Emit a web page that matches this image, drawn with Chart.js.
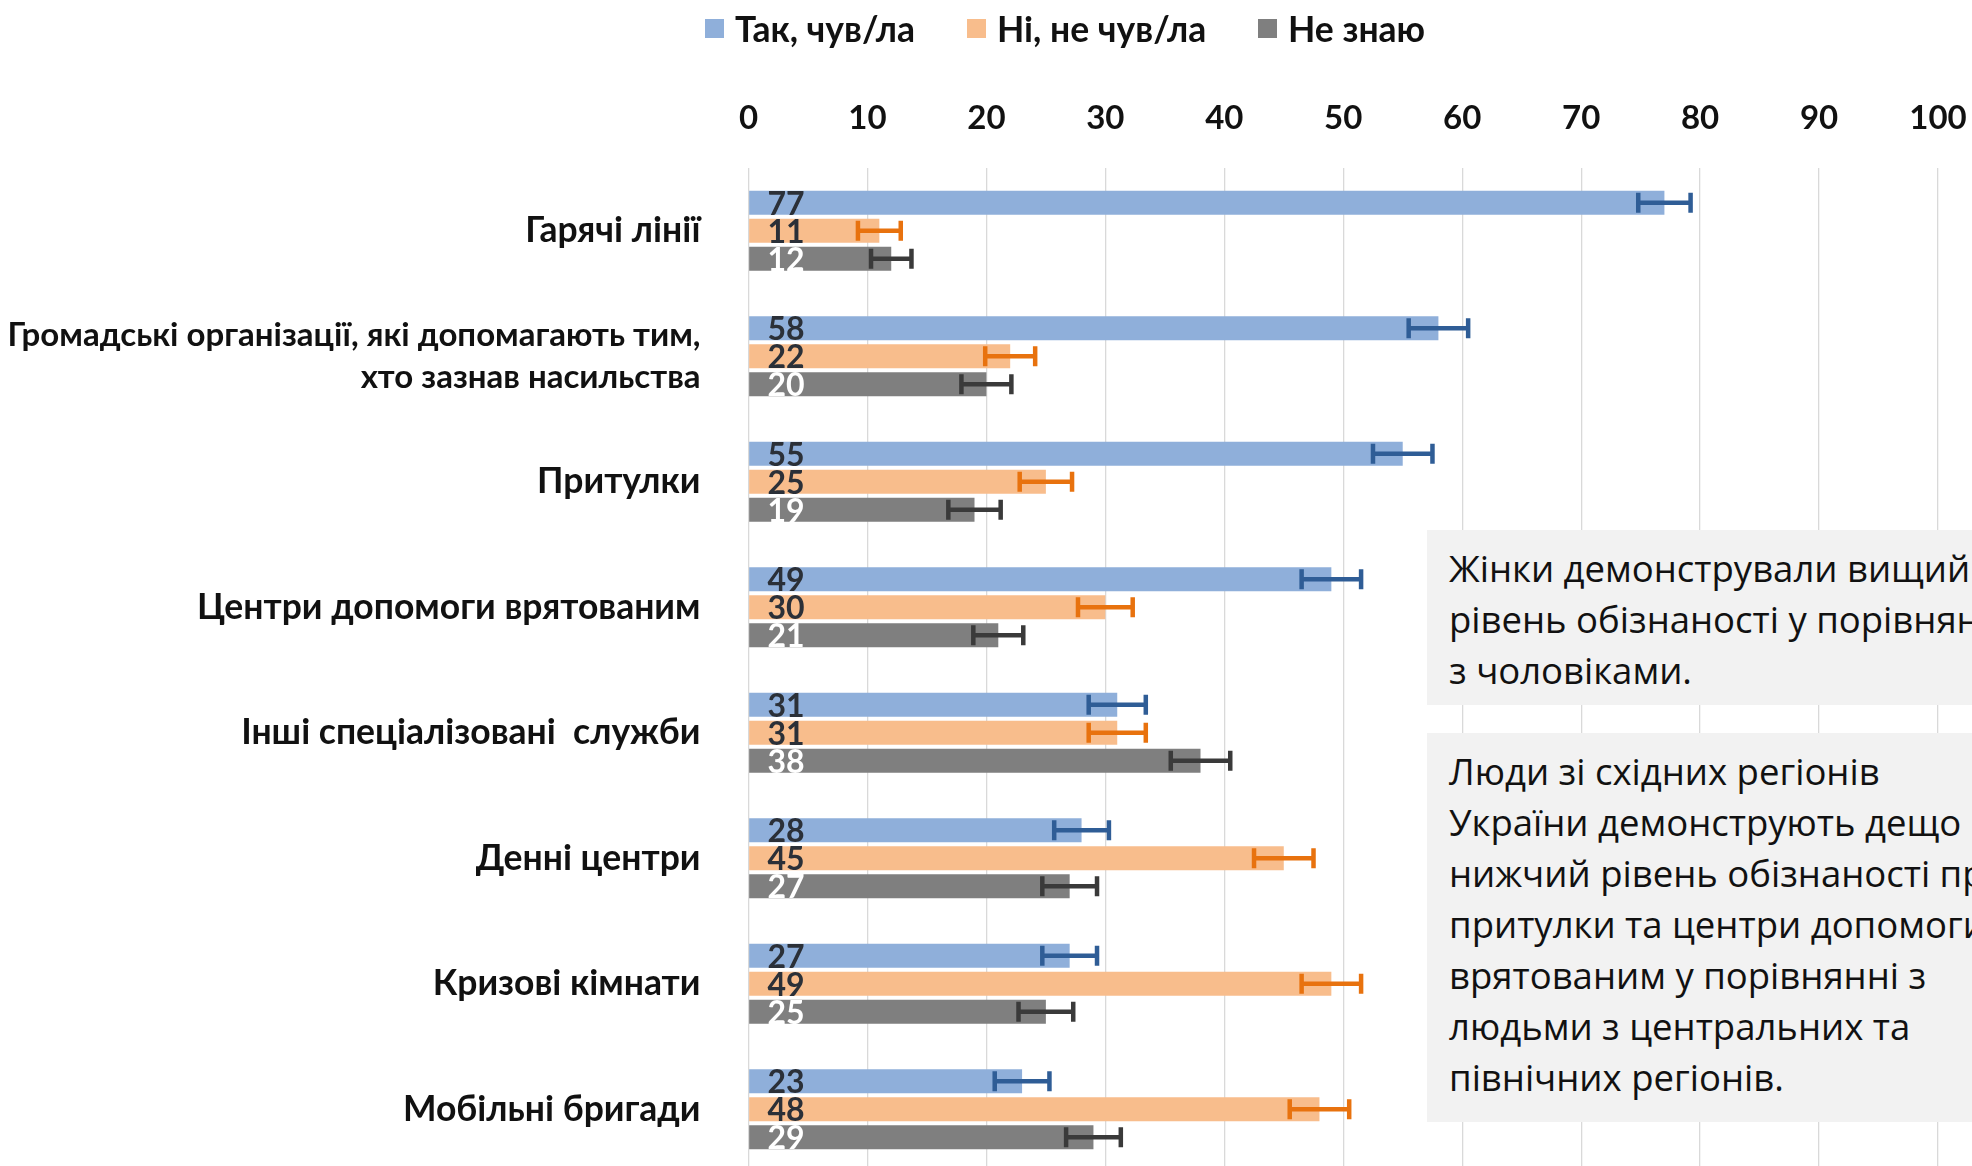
<!DOCTYPE html>
<html lang="uk">
<head>
<meta charset="utf-8">
<title>Обізнаність про служби</title>
<script src="https://cdn.jsdelivr.net/npm/chart.js@4.4.1/dist/chart.umd.min.js"></script>
<style>
  html, body { margin: 0; padding: 0; background: #ffffff; overflow: hidden; }
  #wrap { position: relative; width: 1972px; height: 1172px; }
  #chart { position: absolute; left: 0; top: 0; }
  .legend-item { position: absolute; top: 8px; height: 40px; display: flex; align-items: center;
    font-family: Lato, 'Open Sans', sans-serif; font-weight: 700; font-size: 35.5px; color: #111111; white-space: nowrap; }
  .legend-item .sw { width: 19px; height: 19px; margin-right: 11px; }
  .note { position: absolute; left: 1427px; width: 640px; background: #F2F2F2; box-sizing: border-box;
    font-family: 'Open Sans', 'Noto Sans', sans-serif; font-size: 36.5px; line-height: 51px; color: #111111;
    padding: 13px 0 0 22px; white-space: nowrap; }
</style>
</head>
<body>
<div id="wrap">
  <canvas id="chart" width="1972" height="1172"></canvas>
  <div id="legend"></div>
  <div class="note" style="top:530px;height:175px;">Жінки демонстрували вищий<br>рівень обізнаності у порівнянні<br>з чоловіками.</div>
  <div class="note" style="top:733px;height:389px;">Люди зі східних регіонів<br>України демонструють дещо<br>нижчий рівень обізнаності про<br>притулки та центри допомоги<br>врятованим у порівнянні з<br>людьми з центральних та<br>північних регіонів.</div>
</div>
<script>
// ---- data ----
const categories = [
  'Гарячі лінії',
  ['Громадські організації, які допомагають тим,', 'хто зазнав насильства'],
  'Притулки',
  'Центри допомоги врятованим',
  'Інші спеціалізовані  служби',
  'Денні центри',
  'Кризові кімнати',
  'Мобільні бригади'
];
const seriesNames = ['Так, чув/ла', 'Ні, не чув/ла', 'Не знаю'];
const yesValues = [77, 58, 55, 49, 31, 28, 27, 23];
const noValues = [11, 22, 25, 30, 31, 45, 49, 48];
const dontKnowValues = [12, 20, 19, 21, 38, 27, 25, 29];
const yesErrors = [2.2, 2.5, 2.5, 2.5, 2.4, 2.3, 2.3, 2.3];
const noErrors = [1.8, 2.1, 2.2, 2.3, 2.4, 2.5, 2.5, 2.5];
const dontKnowErrors = [1.7, 2.1, 2.2, 2.1, 2.5, 2.3, 2.3, 2.3];
const axisMin = 0;
const axisMax = 100;
const axisStep = 10;

// ---- styles ----
const barColors = ['#8FAFDA', '#F8BD8C', '#7F7F7F'];
const errorColors = ['#2F5D96', '#E8720E', '#3A3A3A'];
const labelColors = ['#2B3038', '#2B3038', '#FFFFFF'];
const errorsBySeries = [yesErrors, noErrors, dontKnowErrors];
const seriesValues = [yesValues, noValues, dontKnowValues];

// HTML legend
const legendPositions = [705, 967, 1258];
const legendEl = document.getElementById('legend');
seriesNames.forEach((name, i) => {
  const item = document.createElement('div');
  item.className = 'legend-item';
  item.style.left = legendPositions[i] + 'px';
  const sw = document.createElement('span');
  sw.className = 'sw';
  sw.style.background = barColors[i];
  item.appendChild(sw);
  item.appendChild(document.createTextNode(name));
  legendEl.appendChild(item);
});

const errorBarsPlugin = {
  id: 'errorBars',
  afterDatasetsDraw(chart) {
    const ctx = chart.ctx;
    const xs = chart.scales.x;
    chart.data.datasets.forEach((ds, i) => {
      const meta = chart.getDatasetMeta(i);
      const errs = errorsBySeries[i];
      meta.data.forEach((el, j) => {
        const v = ds.data[j];
        const e = errs[j];
        const x1 = xs.getPixelForValue(v - e);
        const x2 = xs.getPixelForValue(v + e);
        const y = el.y;
        const cap = 10;
        ctx.save();
        ctx.strokeStyle = errorColors[i];
        ctx.lineWidth = 4.5;
        ctx.lineCap = 'butt';
        ctx.beginPath();
        ctx.moveTo(x1, y); ctx.lineTo(x2, y);
        ctx.moveTo(x1, y - cap); ctx.lineTo(x1, y + cap);
        ctx.moveTo(x2, y - cap); ctx.lineTo(x2, y + cap);
        ctx.stroke();
        ctx.restore();
      });
    });
  }
};

const valueLabelsPlugin = {
  id: 'valueLabels',
  afterDatasetsDraw(chart) {
    const ctx = chart.ctx;
    const xs = chart.scales.x;
    const x0 = xs.getPixelForValue(0) + 19;
    chart.data.datasets.forEach((ds, i) => {
      const meta = chart.getDatasetMeta(i);
      meta.data.forEach((el, j) => {
        ctx.save();
        ctx.font = 'bold 32px Lato, sans-serif';
        ctx.fillStyle = labelColors[i];
        ctx.textAlign = 'left';
        ctx.textBaseline = 'alphabetic';
        ctx.fillText(String(ds.data[j]), x0, el.y + 12);
        ctx.restore();
      });
    });
  }
};

function zeroScalePadding(scale) {
  scale.paddingLeft = 0;
  scale.paddingRight = 0;
  scale.paddingTop = 0;
  scale.paddingBottom = 0;
}

new Chart(document.getElementById('chart'), {
  type: 'bar',
  data: {
    labels: categories,
    datasets: seriesNames.map((name, i) => ({
      label: name,
      data: seriesValues[i],
      backgroundColor: barColors[i],
      borderWidth: 0,
      categoryPercentage: 0.669,
      barPercentage: 0.857
    }))
  },
  options: {
    indexAxis: 'y',
    responsive: false,
    animation: false,
    devicePixelRatio: 1,
    layout: { padding: { left: 0, right: 34, top: 0, bottom: 0 } },
    plugins: {
      legend: { display: false },
      tooltip: { enabled: false },
      title: { display: false }
    },
    scales: {
      x: {
        type: 'linear',
        position: 'top',
        min: axisMin,
        max: axisMax,
        ticks: {
          stepSize: axisStep,
          color: '#111111',
          font: { family: 'Lato, sans-serif', weight: 'bold', size: 33 },
          padding: 30
        },
        grid: { color: '#D9D9D9', lineWidth: 1.3, drawTicks: false },
        border: { display: false },
        afterFit(scale) { scale.height = 168; zeroScalePadding(scale); }
      },
      y: {
        type: 'category',
        ticks: {
          color: '#111111',
          font: (ctx) => ({ family: 'Lato, sans-serif', weight: 'bold', size: ctx.index === 1 ? 33 : 35.5, lineHeight: 1.27 }),
          padding: 48
        },
        grid: { display: false, drawTicks: false },
        border: { display: false },
        afterFit(scale) { scale.width = 748.5; zeroScalePadding(scale); }
      }
    }
  },
  plugins: [errorBarsPlugin, valueLabelsPlugin]
});
</script>
</body>
</html>
